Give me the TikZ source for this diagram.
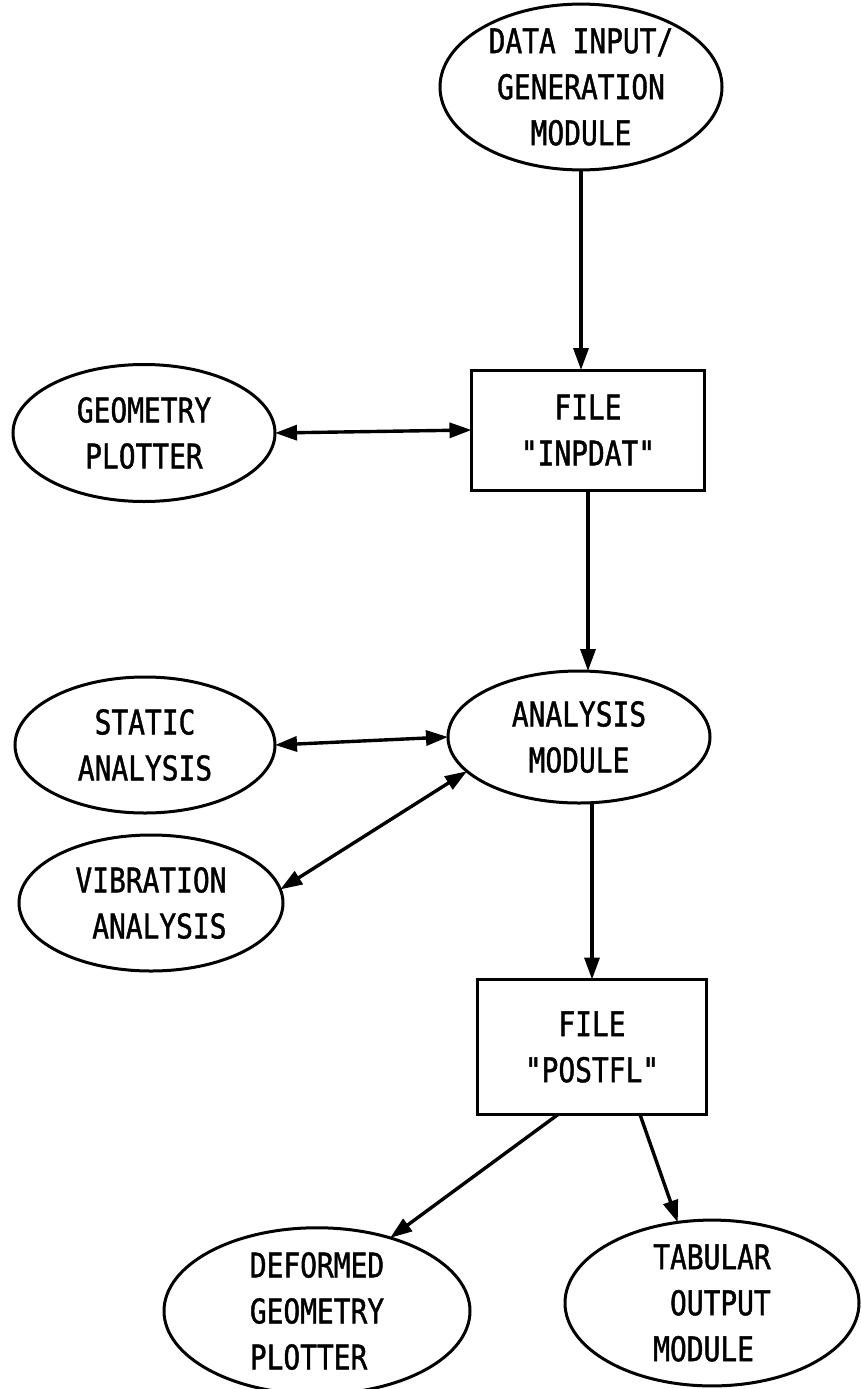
\documentclass[tikz,border=0pt]{standalone}
\usepackage{fontspec}
\setmonofont{DejaVu Sans Mono}[FakeStretch=0.82,FakeBold=1.2]
\usetikzlibrary{shapes.geometric,arrows.meta}
\tikzset{
  every node/.style={font=\ttfamily\fontsize{34}{46}\selectfont, inner sep=0pt, outer sep=0pt},
  oval/.style={ellipse, draw, line width=3pt, align=center},
  filebox/.style={rectangle, draw, line width=3pt, align=center},
  tip/.style={Triangle[length=22pt,width=15pt]},
  conn/.style={line width=3.4pt, -{Triangle[length=22pt,width=15pt]}},
  dconn/.style={line width=3.4pt, {Triangle[length=22pt,width=15pt]}-{Triangle[length=22pt,width=15pt]}}
}
\begin{document}
\begin{tikzpicture}[x=1pt,y=-1pt]
\useasboundingbox (0,0) rectangle (861,1389);
\node[oval, minimum width=282pt, minimum height=160pt] (gen) at (581,87) {DATA INPUT/\\GENERATION\\MODULE};
\node[filebox, minimum width=233pt, minimum height=120pt] (inpdat) at (588,430) {FILE\\"INPDAT"};
\node[oval, minimum width=262pt, minimum height=137pt] (geom) at (144,433) {GEOMETRY\\PLOTTER};
\node[oval, minimum width=262pt, minimum height=132pt] (analysis) at (579,737) {ANALYSIS\\MODULE};
\node[oval, minimum width=260pt, minimum height=136pt] (static) at (145,745) {STATIC\\ANALYSIS};
\node[oval, minimum width=264pt, minimum height=136pt, align=left] (vib) at (151,903) {VIBRATION\\\ ANALYSIS};
\node[filebox, minimum width=229pt, minimum height=135pt] (postfl) at (592,1047) {FILE\\"POSTFL"};
\node[oval, minimum width=306pt, minimum height=152pt, align=left] (deformed) at (317,1311) {DEFORMED\\GEOMETRY\\PLOTTER};
\node[oval, minimum width=294pt, minimum height=156pt, align=left] (tabular) at (712,1303) {TABULAR\\\ OUTPUT\\MODULE};

\draw[conn] (gen.south) -- (gen.south |- inpdat.north);
\draw[dconn] (geom.east) -- (inpdat.west);
\draw[conn] (inpdat.south) -- (inpdat.south |- analysis.north);
\draw[dconn] (static.east) -- (analysis.west);
\draw[dconn] (vib.6) -- (analysis.197);
\draw[conn] (postfl.north |- analysis.south) -- (postfl.north);
\draw[conn] ([xshift=-34pt]postfl.south) -- (deformed.45);
\draw[conn] ([xshift=48pt]postfl.south) -- (tabular.113);
\end{tikzpicture}
\end{document}
